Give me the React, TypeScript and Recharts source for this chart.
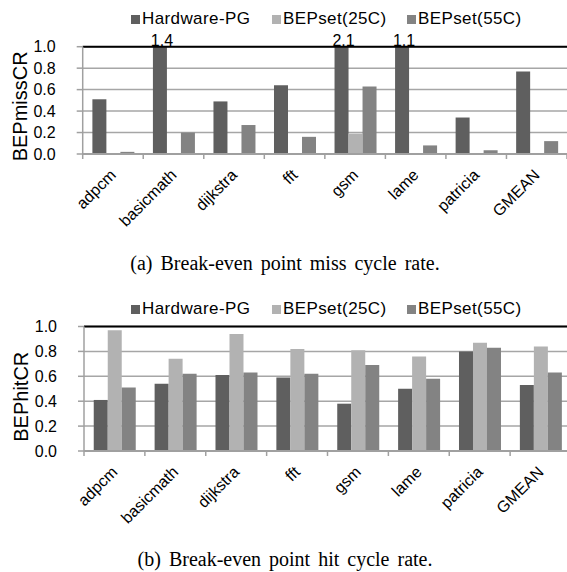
import React from 'react';
import { BarChart, Bar, XAxis, YAxis, CartesianGrid, Legend, ReferenceLine, LabelList } from 'recharts';

const CATEGORIES = ['adpcm', 'basicmath', 'dijkstra', 'fft', 'gsm', 'lame', 'patricia', 'GMEAN'];
const SERIES = ['Hardware-PG', 'BEPset(25C)', 'BEPset(55C)'];
const COLORS = ['#5f5f5f', '#b2b2b2', '#838383'];

// (a) miss cycle rate
const MISS_HW = [0.51, 1.4, 0.49, 0.64, 2.1, 1.1, 0.34, 0.77];
const MISS_25C = [0, 0, 0, 0, 0.19, 0, 0.005, 0.005];
const MISS_55C = [0.02, 0.2, 0.27, 0.16, 0.63, 0.08, 0.035, 0.12];

// (b) hit cycle rate
const HIT_HW = [0.41, 0.54, 0.61, 0.59, 0.38, 0.5, 0.8, 0.53];
const HIT_25C = [0.97, 0.74, 0.94, 0.82, 0.81, 0.76, 0.87, 0.84];
const HIT_55C = [0.51, 0.62, 0.63, 0.62, 0.69, 0.58, 0.83, 0.63];

const Y_TICKS = [0, 0.2, 0.4, 0.6, 0.8, 1.0];

const SANS = '"Liberation Sans", Arial, sans-serif';
const SERIF = '"Liberation Serif", "Times New Roman", serif';
const AXIS_GRAY = '#a0a0a0';

const buildRows = (hw: number[], c25: number[], c55: number[]) =>
  CATEGORIES.map((name, i) => ({
    name,
    hw: hw[i],
    hwShown: Math.min(hw[i], 1),
    c25: c25[i],
    c55: c55[i],
  }));

// 45deg label (drawn along a diagonal path) + Excel style tick marks on the category boundaries
const CategoryTick = (props: any) => {
  const { x, y, payload, index, visibleTicksCount, idPrefix } = props;
  const half = payload.offset || 0;
  const last = index === (visibleTicksCount ?? CATEGORIES.length) - 1;
  const ex = x + 4;
  const ey = y + 22;
  const id = `cat-${idPrefix}-${index}`;
  return (
    <g>
      <line x1={x - half} x2={x - half} y1={y} y2={y + 5} stroke={AXIS_GRAY} strokeWidth={1.5} />
      {last && <line x1={x + half} x2={x + half} y1={y} y2={y + 5} stroke={AXIS_GRAY} strokeWidth={1.5} />}
      <defs>
        <path id={id} d={`M ${ex - 150} ${ey + 150} L ${ex} ${ey}`} />
      </defs>
      <text fontSize={16} fontFamily={SANS} fill="#000" textAnchor="end">
        <textPath href={`#${id}`} startOffset="100%">
          {payload.value}
        </textPath>
      </text>
    </g>
  );
};

// only bars cut at 1.0 get their real value printed above
const OverflowLabel = ({ x, y, width, value }: any) => {
  if (value <= 1) return null;
  return (
    <text x={x + width / 2 + 2} y={y - 1} textAnchor="middle" fontSize={16} fontFamily={SANS} fill="#000">
      {value.toFixed(1)}
    </text>
  );
};

const ITEM_WIDTHS = [141, 135, 130];

const LegendContent = ({ payload }: any) => {
  const items = [...(payload || [])].sort((a: any, b: any) => SERIES.indexOf(a.value) - SERIES.indexOf(b.value));
  return (
    <div style={{ display: 'flex', marginLeft: 131, fontFamily: SANS, fontSize: 17, color: '#000', lineHeight: '20px' }}>
      {items.map((p: any, i: number) => (
        <div key={p.value} style={{ display: 'flex', alignItems: 'center', width: ITEM_WIDTHS[i] }}>
          <span style={{ display: 'inline-block', width: 9, height: 9, background: p.color, marginRight: 2 }} />
          <span style={{ letterSpacing: 0.4 }}>{p.value}</span>
        </div>
      ))}
    </div>
  );
};

interface PanelProps {
  id: string;
  rows: any[];
  yLabel: string;
  width: number;
  height: number;
  plotLeft: number;
  plotTop: number;
  plotBottom: number;
  labelDy: number;
}

const Panel: React.FC<PanelProps> = ({ id, rows, yLabel, width, height, plotLeft, plotTop, plotBottom, labelDy }) => (
  <BarChart
    width={width}
    height={height}
    data={rows}
    margin={{ top: plotTop, right: 0, left: 0, bottom: 0 }}
    barCategoryGap="16%"
    barGap={0}
  >
    <CartesianGrid vertical={false} stroke="#a6a6a6" strokeWidth={1.5} />
    <XAxis
      dataKey="name"
      height={height - plotBottom}
      interval={0}
      tickLine={false}
      tickSize={0}
      tickMargin={0}
      axisLine={{ stroke: AXIS_GRAY, strokeWidth: 2 }}
      tick={(p: any) => <CategoryTick {...p} idPrefix={id} />}
    />
    <YAxis
      width={plotLeft}
      domain={[0, 1]}
      ticks={Y_TICKS}
      interval={0}
      tickFormatter={(v: number) => v.toFixed(1)}
      tick={{ fontSize: 16, fontFamily: SANS, fill: '#000' }}
      tickSize={6}
      tickMargin={21}
      axisLine={{ stroke: AXIS_GRAY, strokeWidth: 1.5 }}
      tickLine={{ stroke: AXIS_GRAY, strokeWidth: 1.5 }}
      label={{
        value: yLabel,
        angle: -90,
        position: 'center',
        dx: -21,
        dy: labelDy,
        fontSize: 20,
        fontFamily: SANS,
        fill: '#000',
      }}
    />
    <Legend
      layout="horizontal"
      verticalAlign="middle"
      width={width}
      wrapperStyle={{ top: 9, left: 0 }}
      content={<LegendContent />}
    />
    <ReferenceLine y={1} stroke="#000" strokeWidth={2} />
    <Bar dataKey="hwShown" name={SERIES[0]} fill={COLORS[0]} isAnimationActive={false}>
      <LabelList dataKey="hw" content={<OverflowLabel />} />
    </Bar>
    <Bar dataKey="c25" name={SERIES[1]} fill={COLORS[1]} isAnimationActive={false} />
    <Bar dataKey="c55" name={SERIES[2]} fill={COLORS[2]} isAnimationActive={false} />
  </BarChart>
);

const captionStyle: React.CSSProperties = {
  position: 'absolute',
  left: 0,
  width: 570,
  textAlign: 'center',
  fontFamily: SERIF,
  fontSize: 20,
  wordSpacing: 3,
  color: '#000',
  lineHeight: '24px',
};

export default function App() {
  const missRows = buildRows(MISS_HW, MISS_25C, MISS_55C);
  const hitRows = buildRows(HIT_HW, HIT_25C, HIT_55C);
  return (
    <div style={{ position: 'absolute', left: 0, top: 0, width: 567, height: 572, overflow: 'hidden', background: '#fff' }}>
      <div style={{ position: 'absolute', left: 0, top: 0 }}>
        <Panel id="a" rows={missRows} yLabel="BEPmissCR" width={567} height={250} plotLeft={82.7} plotTop={46.7} plotBottom={154} labelDy={6} />
      </div>
      <div style={{ ...captionStyle, top: 251 }}>(a) Break-even point miss cycle rate.</div>
      <div style={{ position: 'absolute', left: 0, top: 290 }}>
        <Panel id="b" rows={hitRows} yLabel="BEPhitCR" width={571} height={240} plotLeft={84} plotTop={36.5} plotBottom={161} labelDy={8} />
      </div>
      <div style={{ ...captionStyle, top: 547 }}>(b) Break-even point hit cycle rate.</div>
    </div>
  );
}
